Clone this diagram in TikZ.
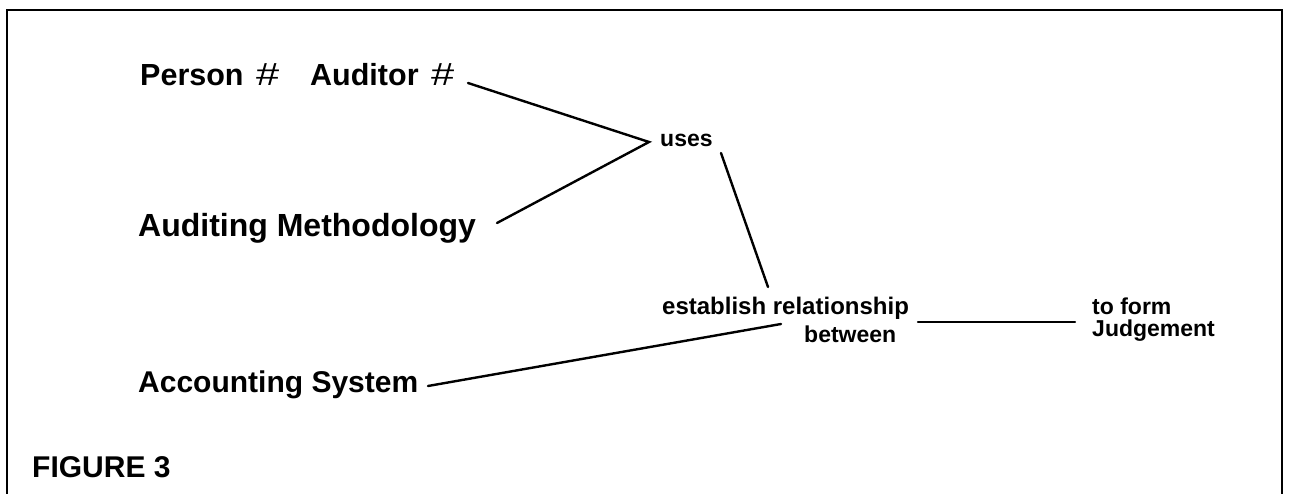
\documentclass[tikz,border=0pt]{standalone}
\usepackage{fontspec}
\setmainfont{Liberation Sans}
\newcommand{\widehash}{\hspace{4pt}{\mdseries\fontsize{32}{36}\selectfont\scalebox{1.3}[1]{\#}}}
\begin{document}
\begin{tikzpicture}[x=1pt,y=-1pt,
  big/.style={font=\fontsize{30}{36}\selectfont\bfseries, inner sep=0pt, anchor=base west},
  bigger/.style={font=\fontsize{32}{38}\selectfont\bfseries, inner sep=0pt, anchor=base west},
  top/.style={font=\fontsize{30.5}{36}\selectfont\bfseries, inner sep=0pt, anchor=base west},
  lbl/.style={font=\fontsize{23}{27}\selectfont\bfseries, inner sep=0pt, anchor=base west},
  conn/.style={line width=2.4pt, line cap=round},
  frame/.style={line width=2pt}]
\useasboundingbox (0,0) rectangle (1290,494);
\draw[frame] (7,494) -- (7,10) -- (1282,10) -- (1282,494);
% nodes
\node[top] (person) at (140,86) {Person \widehash};
\node[top] (auditor) at (310,86) {Auditor \widehash};
\node[bigger] (method) at (138,237) {Auditing Methodology};
\node[big] (acct) at (138,392) {Accounting System};
\node[lbl] (uses) at (660,147) {uses};
\node[lbl, font=\fontsize{24}{28}\selectfont\bfseries] (est) at (662,314) {establish relationship};
\node[lbl] (betw) at (804,342) {between};
\node[lbl] (toform) at (1092,315) {to form};
\node[lbl] (judg) at (1092,336) {Judgement};
\node[big] (fig) at (32,477) {FIGURE 3};
% connector ends
\coordinate (audEnd) at (468,83);
\coordinate (apex) at (649,142);
\coordinate (methEnd) at (497,223);
\coordinate (usesEnd) at (721,153);
\coordinate (estTop) at (768,287);
\coordinate (acctEnd) at (428,386);
\coordinate (estLeft) at (781,324);
\coordinate (estRight) at (918,322);
\coordinate (formLeft) at (1075,322);
% connectors
\draw[conn] (audEnd) -- (apex) -- (methEnd);
\draw[conn] (usesEnd) -- (estTop);
\draw[conn] (acctEnd) -- (estLeft);
\draw[conn] (estRight) -- (formLeft);
\end{tikzpicture}
\end{document}
